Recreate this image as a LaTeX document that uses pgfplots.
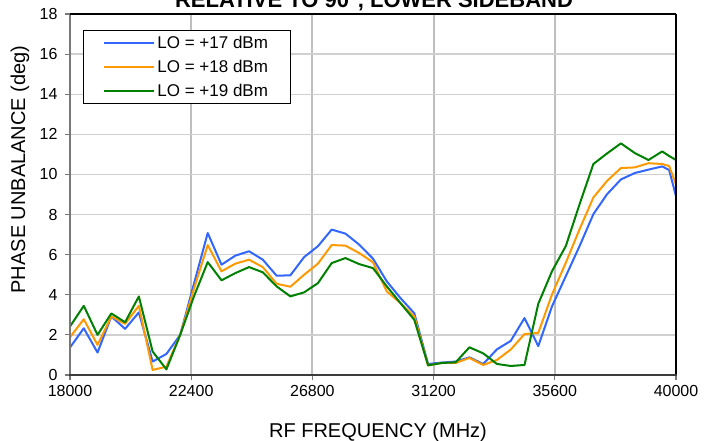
\documentclass[border=0pt]{standalone}
\usepackage{fontspec}
\setmainfont{Liberation Sans}
\usepackage{pgfplots}
\usepackage{pgfplotstable}
\pgfplotsset{compat=1.18}

\definecolor{lo17}{RGB}{51,102,255}
\definecolor{lo18}{RGB}{255,153,0}
\definecolor{lo19}{RGB}{0,128,0}
\definecolor{vgrid}{RGB}{190,190,190}
\definecolor{hgrid}{RGB}{208,208,208}
\definecolor{lframe}{RGB}{120,120,120}
\definecolor{bframe}{RGB}{60,60,60}

% Phase unbalance (deg) vs RF frequency (MHz), lower sideband
\pgfplotstableread{
freq   lo17   lo18   lo19
18000  1.37   1.88   2.42
18500  2.33   2.78   3.45
19000  1.12   1.50   2.00
19500  2.92   2.92   3.07
20000  2.30   2.55   2.63
20500  3.12   3.45   3.92
21000  0.67   0.25   1.17
21500  1.05   0.42   0.28
22000  2.00   2.00   2.00
22500  4.55   4.30   3.92
23000  7.08   6.48   5.63
23500  5.50   5.17   4.72
24000  5.95   5.55   5.08
24500  6.17   5.75   5.38
25000  5.75   5.38   5.12
25500  4.95   4.55   4.42
26000  4.97   4.40   3.92
26500  5.88   5.00   4.12
27000  6.42   5.55   4.58
27500  7.25   6.48   5.58
28000  7.05   6.45   5.83
28500  6.50   6.08   5.53
29000  5.80   5.62   5.33
29500  4.67   4.17   4.42
30000  3.83   3.58   3.58
30500  3.08   2.92   2.75
31000  0.55   0.48   0.48
31500  0.62   0.60   0.60
32000  0.67   0.60   0.63
32500  0.88   0.85   1.38
33000  0.55   0.50   1.08
33500  1.28   0.75   0.55
34000  1.70   1.27   0.45
34500  2.84   2.04   0.50
35000  1.44   2.10   3.55
35500  3.43   4.02   5.18
36000  4.93   5.60   6.43
36500  6.43   7.27   8.52
37000  8.02   8.85   10.52
37500  9.02   9.68   11.05
38000  9.75   10.32  11.55
38500  10.07  10.35  11.07
39000  10.24  10.56  10.72
39500  10.40  10.52  11.15
39750  10.22  10.42  10.92
40000  8.92   9.50   10.72
}\phasedata

\begin{document}
\begin{tikzpicture}
\begin{axis}[
  name=ax,
  scale only axis,
  width=606pt, height=361pt,
  xmin=18000, xmax=40000,
  ymin=0, ymax=18,
  xtick={18000,22400,26800,31200,35600,40000},
  ytick={0,2,4,6,8,10,12,14,16,18},
  xtick pos=bottom, ytick pos=left,
  tick align=outside,
  major tick length=5pt,
  tick style={draw=lframe, line width=1.2pt},
  xmajorgrids, ymajorgrids,
  x grid style={draw=vgrid, line width=2pt},
  y grid style={draw=hgrid, line width=1.3pt},
  axis line style={draw=none},
  scaled x ticks=false,
  /pgf/number format/assume math mode=true,
  /pgf/number format/set thousands separator={},
  tick label style={font=\fontsize{16}{19}\selectfont},
  yticklabel style={xshift=-4pt},
  xticklabel style={yshift=-2pt},
  every axis plot/.append style={line width=2pt, line join=round},
  legend style={
    at={(axis description cs:0.0215,0.956)}, anchor=north west,
    draw=black, line width=0.8pt,
    font=\fontsize{17}{20}\selectfont,
    inner xsep=20pt, inner ysep=4pt,
    row sep=6pt,
    nodes={inner sep=2pt},
    cells={anchor=west},
  },
  legend image code/.code={\draw[#1, line width=2pt] (0pt,0pt) -- (50pt,0pt);},
]
\addplot[lo17] table[x=freq, y=lo17] {\phasedata};
\addlegendentry{LO = +17 dBm}
\addplot[lo18] table[x=freq, y=lo18] {\phasedata};
\addlegendentry{LO = +18 dBm}
\addplot[lo19] table[x=freq, y=lo19] {\phasedata};
\addlegendentry{LO = +19 dBm}
\end{axis}

% frame
\draw[lframe, line width=2.4pt] (ax.south west) -- (ax.north west);
\draw[black, line width=1.6pt] (ax.north west) -- (ax.north east);
\draw[black, line width=2.6pt] (ax.north east) -- (ax.south east);
\draw[bframe, line width=2pt] ([xshift=-1.2pt]ax.south west) -- ([xshift=1.3pt]ax.south east);

% titles
\node[anchor=base, font=\fontsize{22}{26}\selectfont\bfseries]
  at ([xshift=1pt, yshift=6pt]ax.north) {RELATIVE TO 90°, LOWER SIDEBAND};
\node[anchor=base, font=\fontsize{20}{24}\selectfont]
  at ([xshift=5pt, yshift=-63pt]ax.south) {RF FREQUENCY (MHz)};
\node[rotate=90, anchor=center, font=\fontsize{20}{24}\selectfont]
  at ([xshift=-50pt, yshift=25pt]ax.west) {PHASE UNBALANCE (deg)};

\pgfresetboundingbox
\path ([xshift=-70pt, yshift=-66pt]ax.south west) rectangle ([xshift=38pt, yshift=14pt]ax.north east);
\end{tikzpicture}
\end{document}
